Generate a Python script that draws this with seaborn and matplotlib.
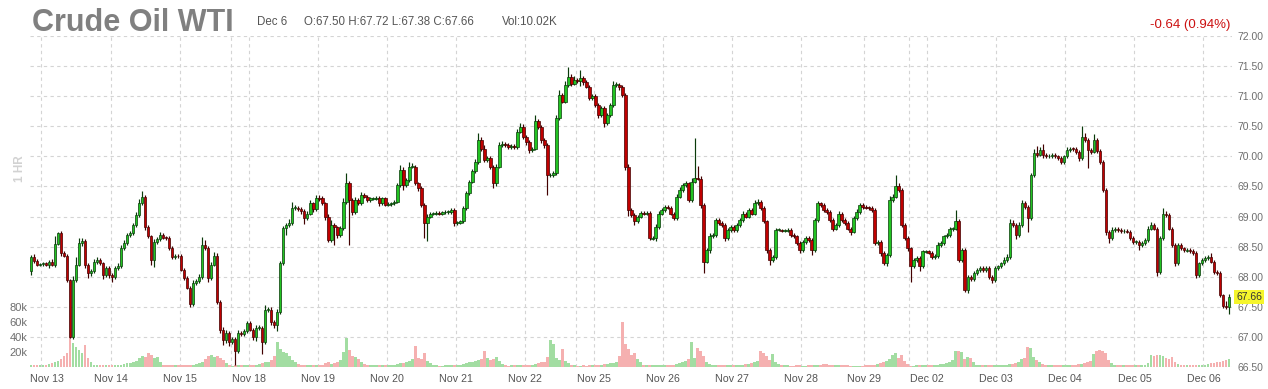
import numpy as np
import pandas as pd
import matplotlib
matplotlib.use("Agg")
import matplotlib.pyplot as plt
import matplotlib.transforms as mtransforms
import seaborn as sns

# ---------------- data (hourly candles) ----------------
first_open = 68.10

close_nov12_14 = [
    68.33, 68.26, 68.20, 68.21, 68.22, 68.20, 68.24, 68.20, 68.55, 68.72,
    68.39, 68.35, 67.95, 67.00, 67.95, 68.20, 68.56, 68.60, 68.20, 68.06,
    68.10, 68.25, 68.28, 68.22, 68.03, 68.15, 68.03, 67.99, 68.15, 68.18,
    68.48, 68.56, 68.69, 68.72, 68.86, 69.03, 69.23]
close_nov14_18 = [
    69.32, 68.82, 68.67, 68.28, 68.58, 68.62, 68.70, 68.65, 68.64, 68.48,
    68.33, 68.35, 68.34, 68.12, 67.98, 67.82, 67.55, 67.90, 67.93, 68.00,
    68.53, 68.48, 67.98, 68.20, 68.35, 67.58, 67.12, 66.95, 67.07, 66.92,
    66.97, 66.76, 67.07, 67.05, 67.10, 67.23, 67.12]
close_nov18 = [
    67.00, 67.15, 67.15, 66.92, 67.45, 67.45, 67.25, 67.20, 67.42, 68.23,
    68.81, 68.86, 68.90, 69.14, 69.15, 69.13, 69.10, 68.98, 69.05, 69.22,
    69.12, 69.31, 69.30]
close_nov19_25 = [
    69.22, 69.00, 68.61, 68.86, 68.82, 68.69, 68.81, 69.25, 69.55, 69.28,
    69.08, 69.28, 69.22, 69.36, 69.33, 69.28, 69.30, 69.30, 69.31, 69.22,
    69.30, 69.20, 69.21, 69.22, 69.25, 69.52, 69.77, 69.52, 69.61, 69.83,
    69.83, 69.55, 69.47, 69.19, 68.89, 69.00, 69.05, 69.05, 69.06, 69.05,
    69.07, 69.08, 69.08, 69.11, 68.89, 68.90, 68.92, 69.14, 69.39, 69.58,
    69.75, 69.91, 70.27, 70.13, 69.94, 69.97, 69.83, 69.55, 69.83, 70.19,
    70.21, 70.19, 70.16, 70.17, 70.15, 70.41, 70.49, 70.33, 70.24, 70.11,
    70.13, 70.58, 70.49, 70.27, 70.19, 69.69, 69.69, 69.72, 70.63, 71.02,
    70.91, 71.19, 71.32, 71.21, 71.27, 71.25, 71.30, 71.24, 71.16, 70.97,
    71.00, 70.85, 70.69, 70.80, 70.55, 70.69, 70.85, 71.19, 71.19, 71.15,
    71.02, 69.83, 69.11, 69.03, 68.92, 69.00, 69.06, 69.05, 69.06]
close_nov25_dec02 = [
    68.64, 68.64, 68.83, 69.05, 69.11, 69.16, 69.15, 69.05, 68.97, 69.33,
    69.44, 69.52, 69.55, 69.28, 69.58, 69.64, 69.63, 69.19, 68.25, 68.44,
    68.67, 68.69, 68.94, 68.89, 68.86, 68.64, 68.78, 68.83, 68.78, 68.86,
    68.94, 69.05, 69.00, 69.11, 69.05, 69.22, 69.25, 69.14, 68.92, 68.44,
    68.28, 68.33, 68.78, 68.78, 68.77, 68.77, 68.78, 68.69, 68.67, 68.56,
    68.44, 68.58, 68.64, 68.61, 68.44, 68.94, 69.22, 69.19, 69.11, 69.08,
    68.94, 68.80, 68.86, 69.05, 68.94, 68.89, 68.80, 68.75, 68.97, 69.08,
    69.19, 69.16, 69.15, 69.14, 69.11, 68.56, 68.58, 68.39, 68.22, 68.36,
    69.28, 69.33, 69.50, 69.44, 68.86, 68.64, 68.47, 68.17, 68.28, 68.31,
    68.17, 68.42, 68.42, 68.40, 68.33, 68.34, 68.53, 68.56, 68.67, 68.69,
    68.79, 68.80, 68.92, 68.28, 68.44, 67.78, 68.00, 67.96, 68.06]
close_dec02_06 = [
    68.11, 68.14, 68.11, 68.15, 68.00, 67.94, 68.14, 68.17, 68.22, 68.28,
    68.33, 68.90, 68.86, 68.69, 68.86, 69.22, 69.16, 68.97, 69.69, 70.05,
    70.03, 70.11, 70.02, 70.00, 70.01, 70.02, 70.00, 69.97, 69.91, 70.00,
    70.11, 70.13, 70.12, 70.08, 69.97, 70.33, 70.27, 70.11, 70.08, 70.27,
    70.09, 69.91, 69.44, 68.75, 68.64, 68.78, 68.80, 68.78, 68.76, 68.76,
    68.75, 68.64, 68.58, 68.58, 68.53, 68.56, 68.61, 68.80, 68.86, 68.80,
    68.08, 68.64, 69.05, 69.03, 68.80, 68.53, 68.22, 68.53, 68.47, 68.44,
    68.44, 68.43, 68.39, 68.03, 68.22, 68.28, 68.31, 68.33, 68.25, 68.08,
    68.06, 67.69, 67.52, 67.50, 67.66]

# wick lengths beyond the body, in cents
upper_wick_cents = [
    3, 4, 3, 2, 2, 3, 3, 5, 13, 3,  4, 3, 2, 2, 6, 12, 8, 4, 3, 3,
    3, 4, 4, 3, 3, 3, 3, 3, 3, 4,   5, 5, 3, 4, 4, 5, 6,
    10, 4, 4, 3, 5, 4, 5, 3, 3, 3,  3, 3, 3, 3, 3, 3, 3, 4, 4, 5,
    13, 8, 3, 4, 6, 5, 3, 4, 4, 3,  3, 3, 4, 3, 3, 4, 4,
    3, 4, 5, 3, 8, 5, 4, 3, 4, 3,   4, 3, 6, 10, 4, 3, 3, 3, 4, 6,
    3, 5, 4,
    4, 3, 4, 8, 3, 3, 4, 5, 18, 4,  3, 5, 3, 4, 3, 3, 3, 3, 3, 3,
    3, 3, 3, 3, 3, 4, 8, 6, 3, 8,   6, 3, 3, 4, 3, 4, 3, 3, 3, 3,
    3, 3, 3, 3, 3, 3, 3, 4, 3, 3,   4, 4, 12, 5, 6, 4, 3, 3, 4, 5,
    4, 3, 3, 3, 3, 5, 6, 4, 3, 3,   3, 11, 4, 3, 3, 3, 3, 3, 6, 8,
    4, 6, 16, 5, 6, 4, 14, 4, 3, 3, 4, 3, 3, 4, 3, 3, 4, 6, 4, 3,
    3, 4, 5, 3, 3, 3, 4, 3, 3,
    3, 3, 4, 4, 3, 3, 3, 3, 3, 4,   5, 4, 4, 3, 6, 66, 20, 4, 3, 4,
    5, 4, 4, 3, 3, 3, 3, 3, 3, 3,   3, 4, 3, 4, 3, 6, 4, 3, 3, 3,
    3, 3, 3, 3, 2, 2, 3, 3, 3, 3,   3, 3, 3, 3, 3, 4, 4, 3, 3, 3,
    3, 3, 3, 4, 3, 3, 3, 3, 4, 4,   4, 3, 3, 3, 3, 3, 3, 3, 4, 3,
    6, 4, 19, 5, 4, 3, 3, 3, 3, 3,  3, 3, 3, 3, 3, 3, 4, 3, 3, 4,
    3, 3, 19, 4, 4, 3, 3, 3, 3,
    3, 3, 3, 3, 3, 3, 3, 3, 3, 4,   4, 6, 5, 3, 5, 6, 4, 3, 4, 8,
    12, 4, 10, 3, 3, 4, 3, 3, 3, 3, 4, 3, 3, 3, 3, 17, 5, 3, 3, 10,
    3, 3, 3, 4, 3, 5, 3, 3, 3, 3,   3, 3, 3, 3, 3, 3, 3, 4, 5, 4,
    3, 4, 9, 4, 3, 3, 3, 3, 3, 3,   3, 3, 3, 3, 3, 3, 3, 3, 6, 3,
    3, 4, 3, 8, 6]
lower_wick_cents = [
    7, 3, 3, 2, 3, 2, 6, 3, 4, 3,   4, 3, 3, 2, 3, 4, 3, 5, 6, 8,
    4, 3, 4, 3, 6, 3, 5, 7, 3, 4,   3, 4, 3, 3, 3, 4, 3,
    3, 4, 3, 8, 12, 3, 3, 3, 3, 3,  3, 3, 3, 3, 3, 3, 6, 4, 3, 3,
    3, 4, 6, 4, 3, 4, 6, 8, 5, 7,   4, 22, 3, 3, 4, 3, 3,
    5, 6, 4, 20, 3, 4, 5, 6, 10, 4, 4, 12, 3, 4, 3, 4, 6, 10, 3, 3,
    4, 3, 4,
    3, 6, 4, 3, 30, 4, 3, 4, 4, 75, 5, 4, 3, 3, 3, 3, 3, 3, 3, 4,
    3, 3, 3, 3, 3, 3, 3, 8, 3, 3,   3, 3, 5, 3, 25, 30, 3, 3, 3, 3,
    3, 3, 3, 3, 4, 3, 3, 3, 3, 3,   3, 3, 3, 4, 3, 4, 4, 8, 4, 3,
    3, 3, 3, 3, 3, 3, 3, 4, 5, 6,   4, 3, 4, 5, 5, 33, 4, 3, 3, 3,
    3, 3, 3, 4, 3, 3, 8, 5, 3, 4,   3, 3, 5, 3, 6, 3, 3, 3, 3, 4,
    4, 5, 10, 4, 6, 3, 3, 3, 3,
    3, 3, 5, 3, 3, 3, 3, 3, 3, 3,   3, 3, 3, 3, 3, 3, 3, 4, 19, 3,
    5, 3, 3, 3, 3, 4, 3, 3, 3, 3,   3, 3, 3, 3, 3, 3, 3, 3, 3, 5,
    8, 3, 3, 2, 2, 2, 2, 3, 3, 3,   4, 3, 3, 3, 8, 3, 3, 3, 3, 3,
    3, 4, 3, 3, 3, 3, 3, 6, 3, 3,   3, 3, 3, 3, 3, 4, 3, 5, 3, 4,
    3, 3, 3, 3, 3, 3, 4, 25, 3, 3,  8, 3, 3, 3, 3, 3, 3, 3, 3, 3,
    3, 3, 3, 3, 3, 3, 5, 3, 3,
    3, 3, 3, 3, 4, 5, 3, 3, 3, 3,   3, 3, 3, 6, 3, 3, 3, 22, 3, 3,
    4, 3, 5, 3, 3, 3, 3, 3, 4, 3,   3, 3, 3, 4, 5, 3, 3, 30, 4, 3,
    3, 4, 3, 6, 8, 3, 3, 3, 3, 3,   3, 3, 3, 3, 8, 3, 3, 3, 3, 3,
    6, 3, 3, 3, 3, 3, 4, 3, 3, 3,   3, 3, 3, 5, 3, 3, 3, 3, 3, 3,
    3, 3, 4, 4, 12]

# hourly volume (thousands), one list per session day
vol_nov12 = [2, 2, 3, 2]
vol_nov13 = [3, 3, 4, 5, 6, 8, 10, 14, 18, 40, 32, 26, 22, 18, 29, 12, 7, 3, 2, 2, 3, 3, 3]
vol_nov14 = [2, 2, 3, 3, 4, 5, 5, 6, 8, 12, 14, 13, 19, 16, 12, 13, 6, 3, 2, 2, 2, 2, 2]
vol_nov15 = [2, 2, 3, 3, 3, 4, 5, 6, 10, 14, 16, 13, 15, 12, 9, 5, 3]
vol_nov17 = [1, 2, 2, 2, 2, 3]
vol_nov18 = [2, 3, 3, 4, 5, 6, 7, 9, 14, 33, 24, 20, 19, 14, 9, 6, 4, 2, 2, 2, 2, 2, 3]
vol_nov19 = [2, 3, 5, 6, 4, 5, 6, 9, 20, 39, 22, 15, 13, 11, 6, 4, 3, 2, 2, 2, 2, 2, 2]
vol_nov20 = [2, 2, 3, 4, 5, 5, 6, 8, 10, 28, 12, 10, 19, 8, 5, 3, 2, 1, 1, 2, 2, 2, 2]
vol_nov21 = [2, 3, 4, 5, 6, 7, 8, 9, 10, 21, 12, 9, 10, 13, 8, 4, 3, 1, 2, 2, 2, 2, 2]
vol_nov22 = [2, 3, 3, 4, 5, 6, 7, 13, 36, 30, 12, 9, 24, 8, 5, 3, 2]
vol_nov24 = [1, 1, 2, 1, 2, 2]
vol_nov25 = [2, 3, 3, 4, 4, 5, 5, 7, 14, 60, 31, 24, 16, 19, 10, 6, 3, 2, 2, 2, 2, 2, 2]
vol_nov26 = [2, 2, 3, 3, 4, 5, 6, 8, 10, 33, 12, 25, 21, 15, 6, 4, 3, 2, 2, 2, 2, 2, 2]
vol_nov27 = [2, 2, 3, 3, 4, 4, 5, 6, 8, 21, 18, 14, 9, 17, 6, 4, 3, 2, 2, 1, 1, 2, 2]
vol_nov28 = [1, 1, 2, 2, 3, 3, 3, 4, 4, 3, 3, 2, 2, 3, 2, 2, 1, 1, 1, 1, 1]
vol_nov29 = [2, 2, 3, 3, 4, 5, 6, 8, 10, 16, 19, 12, 16, 8, 4]
vol_dec01 = [1, 1, 2, 2, 2, 2]
vol_dec02 = [2, 2, 3, 3, 4, 4, 5, 6, 9, 21, 21, 20, 10, 13, 12, 6, 3, 2, 2, 2, 2, 2, 2]
vol_dec03 = [2, 2, 3, 3, 4, 4, 5, 7, 10, 12, 26, 25, 13, 9, 6, 4, 3, 2, 2, 2, 2, 2, 2]
vol_dec04 = [2, 2, 3, 3, 4, 4, 5, 6, 8, 17, 21, 22, 21, 19, 9, 5, 3, 2, 2, 2, 2, 2, 2]
vol_dec05 = [2, 2, 3, 3, 5, 16, 15, 16, 16, 14, 12, 10, 13, 6, 4, 3, 2, 2, 2, 2, 2, 2, 2]
vol_dec06 = [3, 4, 5, 5, 6, 7, 8, 9, 10.02]

# session-day boundaries (index of first candle of each day) and labels
day_start_idx = [4, 27, 50, 67, 73, 96, 119, 142, 165, 182, 188, 211, 234,
                 257, 278, 293, 299, 322, 345, 368, 391]
day_labels = ["Nov 13", "Nov 14", "Nov 15", "", "Nov 18", "Nov 19", "Nov 20",
              "Nov 21", "Nov 22", "", "Nov 25", "Nov 26", "Nov 27", "Nov 28",
              "Nov 29", "", "Dec 02", "Dec 03", "Dec 04", "Dec 05", "Dec 06"]
price_ticks = [66.5, 67.0, 67.5, 68.0, 68.5, 69.0, 69.5, 70.0, 70.5, 71.0, 71.5, 72.0]
vol_ticks = [20, 40, 60, 80]
title = "Crude Oil WTI"
last_day = "Dec 6"
change_value = -0.64
change_pct = 0.94
interval = "1 HR"

# ---------------- assemble ----------------
close = np.array(close_nov12_14 + close_nov14_18 + close_nov18 + close_nov19_25
                 + close_nov25_dec02 + close_dec02_06)
volume = np.array(vol_nov12 + vol_nov13 + vol_nov14 + vol_nov15 + vol_nov17 + vol_nov18
                  + vol_nov19 + vol_nov20 + vol_nov21 + vol_nov22 + vol_nov24 + vol_nov25
                  + vol_nov26 + vol_nov27 + vol_nov28 + vol_nov29 + vol_dec01 + vol_dec02
                  + vol_dec03 + vol_dec04 + vol_dec05 + vol_dec06, dtype=float)
n = min(len(close), len(volume), len(upper_wick_cents), len(lower_wick_cents))
close = close[:n]
volume = volume[:n]
up_w = np.array(upper_wick_cents[:n]) / 100.0
lo_w = np.array(lower_wick_cents[:n]) / 100.0
opn = np.concatenate([[first_open], close[:-1]])
top = np.maximum(opn, close)
bot = np.minimum(opn, close)
high = top + up_w
low = bot - lo_w
is_up = close >= opn
x = np.arange(n)

df = pd.DataFrame({"idx": x, "vol": volume, "dir": np.where(is_up, "up", "down")})

# ---------------- style ----------------
sns.set_theme(style="white")
plt.rcParams["font.family"] = ["Liberation Sans", "DejaVu Sans"]

W_PX, H_PX = 1268, 389
fig = plt.figure(figsize=(W_PX / 100, H_PX / 100), dpi=100)
fig.patch.set_facecolor("white")
left, right, topy, boty = 30, 1232, 36, 367
axv = fig.add_axes([left / W_PX, 1 - boty / H_PX, (right - left) / W_PX, (boty - topy) / H_PX])

grid_kw = dict(color="#d4d4d4", linestyle=(0, (3, 3)), linewidth=0.8)

# volume bars (seaborn)
sns.barplot(data=df, x="idx", y="vol", hue="dir",
            palette={"up": "#a2dda2", "down": "#f5b0b0"},
            native_scale=True, dodge=False, width=0.95, saturation=1,
            errorbar=None, legend=False, linewidth=0, ax=axv)
axv.set_xlim(-0.33, n - 1 + 0.33 + 0.67)
axv.set_ylim(0, 441.3)
axv.set_xlabel("")
axv.set_ylabel("")
axv.set_yticks(vol_ticks)
axv.set_yticklabels([f"{v}k" for v in vol_ticks])
axv.tick_params(axis="y", left=True, length=0, pad=2, labelsize=8, labelcolor="#6e6e6e")
axv.set_xticks(np.array(day_start_idx) - 0.5)
axv.set_xticklabels(day_labels)
axv.tick_params(axis="x", bottom=True, length=0, pad=5, labelsize=7.7, labelcolor="#555555")
# the first date label sits a little right of its grid line (kept inside the frame)
first_lbl = axv.get_xticklabels()[0]
first_lbl.set_transform(first_lbl.get_transform()
                        + mtransforms.ScaledTranslation(5 / 100, 0, fig.dpi_scale_trans))
axv.grid(axis="x", **grid_kw)
axv.grid(axis="y", visible=False)
axv.set_axisbelow(True)
for s in axv.spines.values():
    s.set_visible(False)

# price candles
ax = axv.twinx()
ax.set_ylim(66.5, 72.0)
ax.set_yticks(price_ticks)
ax.set_yticklabels([f"{p:.2f}" for p in price_ticks])
ax.tick_params(axis="y", right=True, length=0, pad=4, labelsize=7.5, labelcolor="#6e6e6e")
ax.grid(axis="y", **grid_kw)
ax.set_axisbelow(True)
for s in ax.spines.values():
    s.set_visible(False)

fill = np.where(is_up, "#22c322", "#c00000")
edge = np.where(is_up, "#0a3a0a", "#420000")
ax.vlines(x, low, high, colors=edge, linewidth=0.85, zorder=2)
body_h = np.maximum(top - bot, 0.014)
body_b = (top + bot) / 2 - body_h / 2
ax.bar(x, body_h, bottom=body_b, width=0.85, color=fill, edgecolor=edge,
       linewidth=0.5, zorder=3)
ax.set_xlim(axv.get_xlim())

# last price tag
trans = mtransforms.blended_transform_factory(ax.transAxes, ax.transData)
ax.text(1.0035, close[-1], f"{close[-1]:.2f}", transform=trans, ha="left", va="center",
        fontsize=7.5, color="#333333", clip_on=False, zorder=10,
        bbox=dict(boxstyle="square,pad=0.18", fc="#f5f52c", ec="none"))

# header texts
def fx(px):
    return px / W_PX

def fy(py):
    return 1 - py / H_PX

fig.text(fx(32), fy(31), title, fontsize=22, fontweight="bold", color="#808080", va="baseline")
fig.text(fx(257), fy(25), last_day, fontsize=8.3, color="#555555", va="baseline")
ohlc = f"O:{opn[-1]:.2f} H:{high[-1]:.2f} L:{low[-1]:.2f} C:{close[-1]:.2f}"
fig.text(fx(304), fy(25), ohlc, fontsize=8.3, color="#555555", va="baseline")
fig.text(fx(502), fy(25), f"Vol:{volume[-1]:.2f}K", fontsize=8.3, color="#555555", va="baseline")
fig.text(fx(1230), fy(28), f"{change_value:.2f} ({change_pct:.2f}%)", fontsize=9.5,
         color="#cc1111", ha="right", va="baseline")
fig.text(fx(20), fy(169), interval, rotation=90, fontsize=8.5, fontweight="bold",
         color="#d2d2d2", ha="center", va="center")

fig.savefig("out.png", dpi=100, facecolor="white")
